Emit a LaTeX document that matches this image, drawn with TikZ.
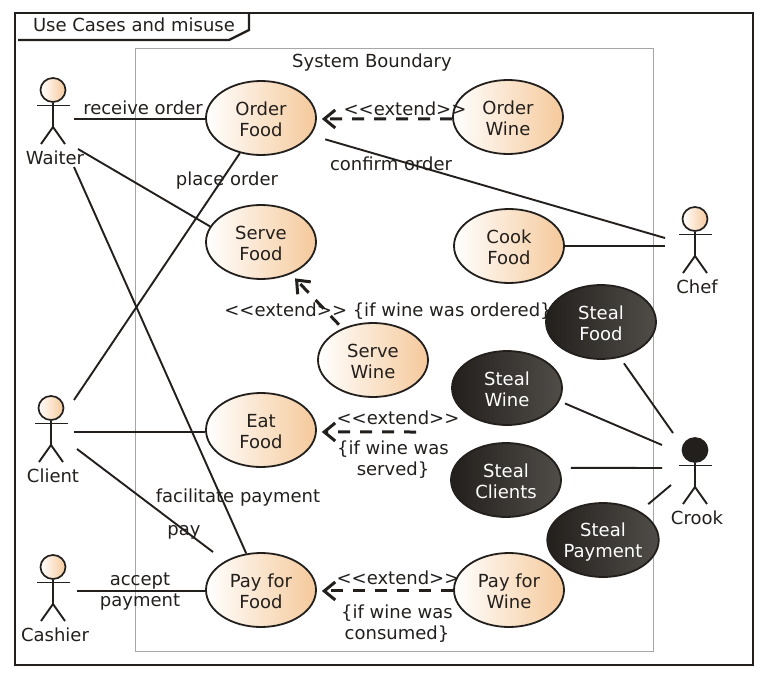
\documentclass[tikz,border=0pt]{standalone}
\usepackage{fontspec}
\setmainfont{DejaVu Sans}
\usetikzlibrary{arrows.meta,shapes.geometric}
\definecolor{ink}{HTML}{231F1C}
\definecolor{peach}{HTML}{F5C99B}
\definecolor{darkR}{HTML}{504C48}
\newcommand{\topgap}{\rule{0pt}{17pt}}
\tikzset{
  x=1pt,y=-1pt,
  every node/.style={text=ink,font=\fontsize{18}{21}\selectfont,align=center,inner sep=0pt},
  uc/.style={ellipse,draw=ink,line width=1.8pt,minimum width=110pt,minimum height=74pt,left color=white,right color=peach},
  evil/.style={ellipse,draw=ink,line width=1.8pt,minimum width=110pt,minimum height=74pt,left color=ink,right color=darkR,text=white},
  conn/.style={draw=ink,line width=1.9pt},
  ext/.style={draw=ink,line width=3pt,dash pattern=on 12pt off 10pt,-{Straight Barb[length=11pt,width=18pt,line width=3pt]}},
  limb/.style={draw=ink,line width=1.9pt},
  lab/.style={},
}
\newcommand{\actorfig}[5]{% name, x, y(head), label, head style
  \node[ellipse,draw=ink,line width=1.7pt,minimum width=25pt,minimum height=24pt,#5] (#1) at (#2,#3) {};
  \coordinate (#1hip) at (#2,#3+37);
  \coordinate (#1la) at (#2-16,#3+15.5);
  \coordinate (#1ra) at (#2+17,#3+15.5);
  \coordinate (#1ll) at (#2-12,#3+54);
  \coordinate (#1rl) at (#2+12,#3+54);
  \draw[limb] (#1.south) -- (#1hip);
  \draw[limb] (#1la) -- (#1ra);
  \draw[limb] (#1ll) -- (#1hip) -- (#1rl);
  \node[lab] (#1lab) at (#2+2,#3+67.5) {#4};
}
\begin{document}
\begin{tikzpicture}
\useasboundingbox (0,0) rectangle (768,679);
\fill[white] (0,0) rectangle (768,679);
% frames
\node[draw=ink,line width=2.4pt,minimum width=738pt,minimum height=652pt] (frame) at (384,339) {};
\node[draw=black!35,line width=0.8pt,minimum width=518pt,minimum height=603pt] (boundary) at (394,349.5) {};
\coordinate (tabA) at (18,40);
\coordinate (tabB) at (229,40);
\coordinate (tabC) at (249,30);
\coordinate (tabD) at (249,13);
\draw[draw=ink,line width=2.4pt] (tabA) -- (tabB) -- (tabC) -- (tabD);
\node[lab] (title) at (134,25) {Use Cases and misuse};
\node[lab] (sysb) at (372,63) {System Boundary};
% use cases
\node[uc] (ofood) at (261,118) {\topgap Order\\Food};
\node[uc] (owine) at (508,117) {\topgap Order\\Wine};
\node[uc] (sfood) at (261,242) {\topgap Serve\\Food};
\node[uc] (cfood) at (509,246) {\topgap Cook\\Food};
\node[uc] (swine) at (373,360) {\topgap Serve\\Wine};
\node[uc] (efood) at (261,430) {\topgap Eat\\Food};
\node[uc] (pfood) at (261,590) {\topgap Pay for\\Food};
\node[uc] (pwine) at (509,590) {\topgap Pay for\\Wine};
\node[evil] (stfood) at (601,322) {\topgap Steal\\Food};
\node[evil] (stwine) at (507,388) {\topgap Steal\\Wine};
\node[evil] (stclients) at (506,480) {\topgap Steal\\Clients};
\node[evil] (stpay) at (603,540) {\topgap Steal\\Payment};
% actors
\actorfig{waiter}{53}{90}{Waiter}{left color=white,right color=peach}
\actorfig{chef}{695}{219}{Chef}{left color=white,right color=peach}
\actorfig{client}{51}{408}{Client}{left color=white,right color=peach}
\actorfig{cashier}{53}{567}{Cashier}{left color=white,right color=peach}
\actorfig{crook}{695}{450}{Crook}{fill=ink}
% connector ends
\coordinate (wA) at (74,119);
\coordinate (wB) at (78,149);
\coordinate (wC) at (74,167);
\coordinate (cA) at (74,400);
\coordinate (cB) at (74,432);
\coordinate (cC) at (77,449);
\coordinate (payEnd) at (213,552);
\coordinate (caA) at (77,591);
\coordinate (chA) at (665,238);
\coordinate (chB) at (665,246);
\coordinate (krA) at (673,433);
\coordinate (krB) at (662,445);
\coordinate (krC) at (662,468);
\coordinate (krD) at (671,485);
\coordinate (eatFrom) at (416,432);
% associations
\draw[conn] (wA) -- (ofood.181);
\draw[conn] (wB) -- (sfood.163);
\draw[conn] (wC) -- (pfood.112);
\draw[conn] (cA) -- (ofood.239);
\draw[conn] (cB) -- (efood.182);
\draw[conn] (cC) -- (payEnd);
\draw[conn] (caA) -- (pfood.181);
\draw[conn,shorten <=15pt] (ofood.341) -- (chA);
\draw[conn] (cfood.east) -- (chB);
\draw[conn,shorten <=7pt] (stfood.298) -- (krA);
\draw[conn,shorten <=6pt] (stwine.346) -- (krB);
\draw[conn,shorten <=12pt] (stclients.13) -- (krC);
\draw[conn,shorten <=11pt] (stpay.38) -- (krD);
% extends
\draw[ext,shorten >=5pt] (owine.182) -- (ofood.359);
\draw[ext,shorten <=5pt,shorten >=6pt] (swine.134) -- (sfood.313);
\draw[ext,shorten >=5pt] (eatFrom) -- (efood.358);
\draw[ext,shorten >=5pt] (pwine.181) -- (pfood.359);
% labels
\node[lab] (l1) at (143,108) {receive order};
\node[lab] (l2) at (227,181) {place order};
\node[lab] (l3) at (391,164) {confirm order};
\node[lab] (l4) at (238,498) {facilitate payment};
\node[lab] (l5) at (184,532) {pay};
\node[lab] (l6) at (140,592) {accept\\payment};
\node[lab] (e1) at (405,109) {<{}<extend>{}>};
\node[lab] (e2) at (388,311) {<{}<extend>{}> \{if wine was ordered\}};
\node[lab] (e3) at (398,418) {<{}<extend>{}>};
\node[lab] (e4) at (393,460) {\{if wine was\\served\}};
\node[lab] (e5) at (398,578) {<{}<extend>{}>};
\node[lab] (e6) at (397,624) {\{if wine was\\consumed\}};
\end{tikzpicture}
\end{document}
